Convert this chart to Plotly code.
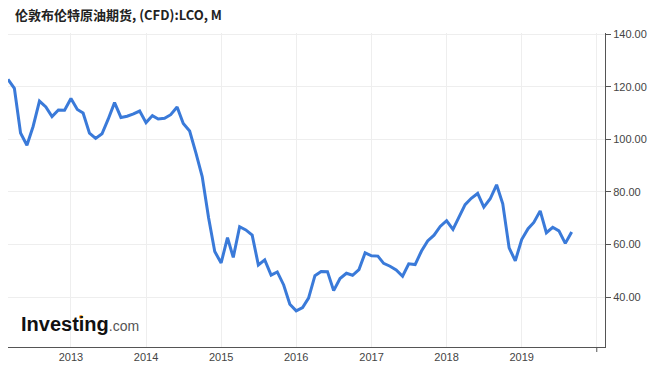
import pandas as pd
import plotly.graph_objects as go

# Monthly closes, Brent crude (LCO), Mar 2012 .. Sep 2019
start_month = "2012-03-01"
prices = [
    122.88, 119.47, 102.43, 97.80, 104.92, 114.57, 112.39, 108.70, 111.23, 111.11,
    115.55, 111.38, 110.02, 102.37, 100.39, 102.16, 107.70, 114.01, 108.37, 108.84, 109.69, 110.80,
    106.40, 109.07, 107.76, 108.07, 109.41, 112.36, 106.02, 103.19, 94.67, 85.86, 70.15, 57.33,
    52.99, 62.58, 55.11, 66.78, 65.56, 63.59, 52.21, 54.15, 48.37, 49.56, 44.61, 37.28,
    34.74, 35.97, 39.60, 48.13, 49.69, 49.68, 42.46, 47.04, 49.06, 48.30, 50.47, 56.82,
    55.70, 55.59, 52.83, 51.73, 50.31, 47.92, 52.65, 52.38, 57.54, 61.37, 63.57, 66.87,
    69.05, 65.78, 70.27, 75.17, 77.59, 79.44, 74.25, 77.42, 82.72, 75.47, 58.71, 53.80,
    61.89, 66.03, 68.39, 72.80, 64.49, 66.55, 65.17, 60.43, 64.80,
]
dates = pd.date_range(start_month, periods=len(prices), freq="MS")

year_ticks = ["2013-01-01", "2014-01-01", "2015-01-01", "2016-01-01",
              "2017-01-01", "2018-01-01", "2019-01-01", "2020-01-01"]
year_labels = ["2013", "2014", "2015", "2016", "2017", "2018", "2019", ""]
y_ticks = [40, 60, 80, 100, 120, 140]
y_labels = ["40.00", "60.00", "80.00", "100.00", "120.00", "140.00"]

title_text = "伦敦布伦特原油期货, (CFD):LCO, M"

W, H = 656, 371
# plot area in page pixels: x 8..605, y 33..347
PL, PR, PT, PB = 8, 605, 33, 347
ML, MT, MR, MB = PL, PT, W - PR, H - PB
PW, PH = PR - PL, PB - PT

def px_x(p):
    return (p - PL) / PW

def px_y(p):
    return (PB - p) / PH

fig = go.Figure()
fig.add_trace(go.Scatter(
    x=dates, y=prices, mode="lines",
    line=dict(color="#3a7ad9", width=3),
    hoverinfo="skip", showlegend=False,
))

axis_font = dict(family="Liberation Sans, Arial, sans-serif", size=11, color="#444444")

fig.update_layout(
    width=W, height=H,
    margin=dict(l=ML, r=MR, t=MT, b=MB),
    paper_bgcolor="white", plot_bgcolor="white",
    title=dict(
        text="<b>" + title_text + "</b>",
        x=15 / W, xanchor="left", y=1 - 15 / H, yanchor="middle",
        font=dict(family="Noto Sans CJK SC, sans-serif", size=13, color="#222222"),
    ),
    xaxis=dict(
        type="date", range=["2012-03-01", "2020-02-10"],
        tickvals=year_ticks, ticktext=year_labels,
        showgrid=True, gridcolor="#eeeeee", gridwidth=1,
        showline=True, linecolor="#555555", linewidth=1,
        ticks="", tickfont=axis_font, zeroline=False, fixedrange=True,
    ),
    yaxis=dict(
        side="right", range=[21, 140.5],
        tickvals=y_ticks, ticktext=y_labels,
        showgrid=True, gridcolor="#eeeeee", gridwidth=1,
        showline=True, linecolor="#555555", linewidth=1,
        ticks="outside", ticklen=5, tickcolor="#555555",
        tickfont=axis_font, zeroline=False, fixedrange=True,
    ),
    annotations=[
        dict(
            xref="paper", yref="paper", x=px_x(19), y=px_y(324),
            xanchor="left", yanchor="middle", showarrow=False,
            text="<b>Investing</b><span style='font-size:14px;color:#555555'>.com</span>",
            font=dict(family="Liberation Sans, Arial, sans-serif", size=20, color="#111111"),
        ),
    ],
    shapes=[
        # lone outside tick at 2020 on the x axis
        dict(type="line", xref="x", yref="paper", x0="2020-01-01", x1="2020-01-01",
             y0=0, y1=-5 / PH, line=dict(color="#555555", width=1)),
        # orange dot of the logo's "i"
        dict(type="circle", xref="paper", yref="paper",
             xsizemode="pixel", ysizemode="pixel",
             xanchor=px_x(81), yanchor=px_y(317),
             x0=-2, x1=2, y0=-2, y1=2,
             fillcolor="#f5a623", line=dict(width=0)),
    ],
)

# remove the browser's default 8px body margin so the figure sits at (0, 0)
fig.write_html(
    "out.html",
    config={"displayModeBar": False, "staticPlot": True},
    post_script="document.body.style.margin='0';document.body.style.overflow='hidden';",
)
